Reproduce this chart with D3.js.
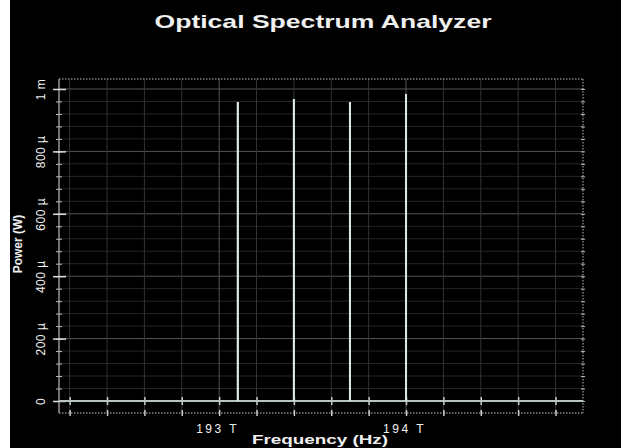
<!DOCTYPE html>
<html>
<head>
<meta charset="utf-8">
<script src="https://cdn.jsdelivr.net/npm/d3@7"></script>
<style>
  html, body { margin: 0; padding: 0; background: #fff; }
  svg { display: block; }
  text { font-family: "Liberation Sans", Arial, sans-serif; fill: #f0f0f0; }
</style>
</head>
<body>
<svg id="chart" width="621" height="448"></svg>
<script>
// peaks (THz, W)
const peakFreqs = [193.1, 193.4, 193.7, 194.0];
const peakPowers = [0.958e-3, 0.968e-3, 0.958e-3, 0.984e-3];

// axes
const xGrid = [192.2, 192.4, 192.6, 192.8, 193.0, 193.2, 193.4, 193.6, 193.8, 194.0, 194.2, 194.4, 194.6, 194.8];
const xLabelTicks = [193, 194];
const xLabels = ["193 T", "194 T"];
const yMajor = [0, 200e-6, 400e-6, 600e-6, 800e-6, 1e-3];
const yLabels = ["0", "200 µ", "400 µ", "600 µ", "800 µ", "1 m"];
const yMinor = d3.range(0, 26).map(i => i * 40e-6);

const svg = d3.select("#chart");

// black panel (thin white strip stays on the left)
svg.append("rect")
  .attr("x", 10).attr("y", 0)
  .attr("width", 611).attr("height", 448)
  .attr("fill", "#000");

const x = d3.scaleLinear().domain([192.143, 194.947]).range([59, 583]);
const y = d3.scaleLinear().domain([-0.0385e-3, 1.032e-3]).range([413, 79]);

const plotL = x.range()[0], plotR = x.range()[1];
const plotT = y.range()[1], plotB = y.range()[0];

// grid: minor horizontal, major horizontal, vertical
svg.append("g").selectAll("line")
  .data(yMinor.filter(d => !yMajor.some(m => Math.abs(m - d) < 1e-9)))
  .join("line")
  .attr("x1", plotL).attr("x2", plotR)
  .attr("y1", d => y(d)).attr("y2", d => y(d))
  .attr("stroke", "#262626").attr("stroke-width", 1);

svg.append("g").selectAll("line")
  .data(yMajor.filter(d => d > 0))
  .join("line")
  .attr("x1", plotL).attr("x2", plotR)
  .attr("y1", d => y(d)).attr("y2", d => y(d))
  .attr("stroke", "#555").attr("stroke-width", 1);

svg.append("g").selectAll("line")
  .data(xGrid)
  .join("line")
  .attr("x1", d => x(d)).attr("x2", d => x(d))
  .attr("y1", plotT).attr("y2", plotB)
  .attr("stroke", d => xLabelTicks.some(t => Math.abs(t - d) < 1e-9) ? "#555" : "#333")
  .attr("stroke-width", 1);

// frame: dotted top/right/bottom, solid left
const dotted = "1.5,1.5";
svg.append("line").attr("x1", plotL).attr("x2", plotR).attr("y1", plotT).attr("y2", plotT)
  .attr("stroke", "#bbb").attr("stroke-dasharray", dotted);
svg.append("line").attr("x1", plotR).attr("x2", plotR).attr("y1", plotT).attr("y2", plotB)
  .attr("stroke", "#bbb").attr("stroke-dasharray", dotted);
svg.append("line").attr("x1", plotL).attr("x2", plotR).attr("y1", plotB).attr("y2", plotB)
  .attr("stroke", "#ccc").attr("stroke-dasharray", dotted);
svg.append("line").attr("x1", plotL).attr("x2", plotL).attr("y1", plotT).attr("y2", plotB)
  .attr("stroke", "#bbb").attr("stroke-width", 1.2);

// y axis ticks + labels
const yAxisMinor = svg.append("g")
  .attr("transform", `translate(${plotL},0)`)
  .call(d3.axisLeft(y).tickValues(yMinor).tickSize(3).tickFormat(""));
yAxisMinor.select(".domain").remove();
yAxisMinor.selectAll(".tick line").attr("x1", 3).attr("stroke", "#bbb");

const yAxis = svg.append("g")
  .attr("transform", `translate(${plotL},0)`)
  .call(d3.axisLeft(y).tickValues(yMajor).tickSize(6).tickFormat((d, i) => yLabels[i]));
yAxis.select(".domain").remove();
yAxis.selectAll(".tick line").attr("x1", 7).attr("stroke", "#ddd").attr("stroke-width", 1.5);
yAxis.selectAll(".tick text")
  .attr("x", null).attr("dy", null)
  .attr("transform", "translate(-14,0) rotate(-90)")
  .attr("text-anchor", "middle")
  .attr("fill", "#e8e8e8")
  .style("font-size", "12px")
  .style("letter-spacing", "0.5px");

// right edge ticks
const yAxisRight = svg.append("g")
  .attr("transform", `translate(${plotR},0)`)
  .call(d3.axisRight(y).tickValues(yMinor).tickSize(2).tickFormat(""));
yAxisRight.select(".domain").remove();
yAxisRight.selectAll(".tick line").attr("x1", -2).attr("stroke", "#bbb");

// x axis ticks on the zero line and on the bottom frame
const xAxisZero = svg.append("g")
  .attr("transform", `translate(0,${y(0)})`)
  .call(d3.axisBottom(x).tickValues(xGrid).tickSize(4).tickFormat(""));
xAxisZero.select(".domain").remove();
xAxisZero.selectAll(".tick line").attr("y1", -4).attr("stroke", "#ccc").attr("stroke-width", 1.5);

const xAxis = svg.append("g")
  .attr("transform", `translate(0,${plotB})`)
  .call(d3.axisBottom(x).tickValues(xGrid).tickSize(3).tickFormat(""));
xAxis.select(".domain").remove();
xAxis.selectAll(".tick line").attr("y1", -3).attr("stroke", "#ccc").attr("stroke-width", 1.5);

const xAxisLabels = svg.append("g")
  .attr("transform", `translate(0,${plotB})`)
  .call(d3.axisBottom(x).tickValues(xLabelTicks).tickSize(0).tickFormat((d, i) => xLabels[i]));
xAxisLabels.select(".domain").remove();
xAxisLabels.selectAll(".tick text")
  .attr("y", 20).attr("dy", null)
  .attr("dx", -2)
  .attr("fill", "#e8e8e8")
  .style("font-size", "12px")
  .style("letter-spacing", "2.5px");

// spectrum trace: flat floor with spikes at each channel
const tracePts = [[x.domain()[0], 0]];
peakFreqs.forEach((f, i) => {
  tracePts.push([f, 0], [f, peakPowers[i]], [f, 0]);
});
tracePts.push([x.domain()[1], 0]);

svg.append("path")
  .datum(tracePts)
  .attr("fill", "none")
  .attr("stroke", "#b8c4c4")
  .attr("stroke-width", 2)
  .attr("d", d3.line().x(d => x(d[0])).y(d => y(d[1])));

svg.append("g").selectAll("line")
  .data(peakFreqs)
  .join("line")
  .attr("x1", d => x(d)).attr("x2", d => x(d))
  .attr("y1", y(0)).attr("y2", (d, i) => y(peakPowers[i]))
  .attr("stroke", "#d8e8e6")
  .attr("stroke-width", 2);

// titles
svg.append("text")
  .attr("x", 323).attr("y", 28)
  .attr("text-anchor", "middle")
  .attr("textLength", 337)
  .attr("lengthAdjust", "spacingAndGlyphs")
  .style("font-size", "19px")
  .style("font-weight", "bold")
  .text("Optical Spectrum Analyzer");

svg.append("text")
  .attr("transform", "translate(22,244) rotate(-90)")
  .attr("text-anchor", "middle")
  .style("font-size", "12px")
  .style("font-weight", "bold")
  .text("Power (W)");

svg.append("text")
  .attr("x", 320).attr("y", 444)
  .attr("text-anchor", "middle")
  .attr("textLength", 136)
  .attr("lengthAdjust", "spacingAndGlyphs")
  .style("font-size", "12px")
  .style("font-weight", "bold")
  .text("Frequency (Hz)");
</script>
</body>
</html>
